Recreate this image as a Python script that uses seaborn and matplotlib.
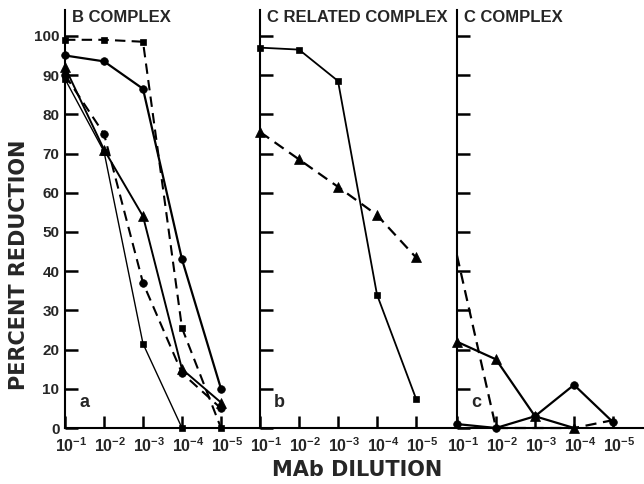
import matplotlib
matplotlib.use("Agg")
import matplotlib.pyplot as plt
import matplotlib.transforms as mtransforms
from matplotlib.ticker import NullLocator
import seaborn as sns

sns.set_style("white")
plt.rcParams['font.family'] = ['Liberation Sans', 'DejaVu Sans']
plt.rcParams['font.weight'] = 'bold'
plt.rcParams['mathtext.fontset'] = 'custom'
plt.rcParams['mathtext.rm'] = 'Liberation Sans:bold'
plt.rcParams['mathtext.bf'] = 'Liberation Sans:bold'
plt.rcParams['mathtext.default'] = 'bf'

# 데이터
dilutions = [1e-1, 1e-2, 1e-3, 1e-4, 1e-5]
x_tick_labels = ['$10^{-1}$', '$10^{-2}$', '$10^{-3}$', '$10^{-4}$', '$10^{-5}$']
y_ticks = [0, 10, 20, 30, 40, 50, 60, 70, 80, 90, 100]
panel_titles = ['B COMPLEX', 'C RELATED COMPLEX', 'C COMPLEX']
panel_letters = ['a', 'b', 'c']

# (a) B complex
a_circle_solid = [95, 93.5, 86.5, 43, 10]
a_square_dash = [99, 99, 98.5, 25.5, 0]
a_triangle_solid = [92, 71, 54, 15, 6.5]
a_circle_dash = [90, 75, 37, 14, 5]
a_square_solid = [89, 70.5, 21.5, 0]

# (b) C related complex
b_square_solid = [97, 96.5, 88.5, 34, 7.5]
b_triangle_dash = [75.5, 68.5, 61.5, 54.3, 43.5]

# (c) C complex
c_circle_solid = [1, 0, 3, 11, 1.5]
c_triangle_solid = [22, 17.5, 3, 0]
c_dash = [44, 0, 0, 0, 2]

# 마커 크기
marker_sizes = {'o': 5.5, 's': 5, '^': 7, None: 0}

# 선 스타일: (값, 마커, 점선 여부, 선 두께)
panels = [
    [(a_circle_solid, 'o', False, 1.6),
     (a_square_dash, 's', True, 1.5),
     (a_triangle_solid, '^', False, 1.4),
     (a_circle_dash, 'o', True, 1.5),
     (a_square_solid, 's', False, 1.0)],
    [(b_square_solid, 's', False, 1.3),
     (b_triangle_dash, '^', True, 1.6)],
    [(c_circle_solid, 'o', False, 1.6),
     (c_triangle_solid, '^', False, 1.6),
     (c_dash, None, True, 1.6)],
]

W, H = 644, 484
fig = plt.figure(figsize=(W / 100, H / 100), dpi=100)
lefts = [65, 260, 457]
axes = [fig.add_axes([l / W, 56 / H, 195 / W, 418 / H]) for l in lefts]

offset = mtransforms.ScaledTranslation(0.06, 0, fig.dpi_scale_trans)

for i, ax in enumerate(axes):
    for vals, marker, dashed, lw in panels[i]:
        ls = (0, (5, 3)) if dashed else '-'
        sns.lineplot(x=dilutions[:len(vals)], y=vals, ax=ax, color='black',
                     marker=marker, markersize=marker_sizes[marker],
                     markeredgecolor='black', markeredgewidth=0.5,
                     linestyle=ls, linewidth=lw, estimator=None, sort=False,
                     legend=False, clip_on=False)

    ax.set_xscale('log')
    ax.set_xlim(1e-1, 1e-6)
    ax.set_ylim(0, 106.6)
    ax.xaxis.set_minor_locator(NullLocator())
    ax.set_xticks(dilutions)
    ax.set_xticklabels(x_tick_labels, fontsize=11.5)
    ax.set_yticks(y_ticks)
    ax.set_yticklabels([str(v) for v in y_ticks], fontsize=11)
    ax.tick_params(direction='in', length=9, width=1.8, color='black', pad=4,
                   bottom=True, left=True)
    ax.tick_params(axis='x', pad=6)
    if i > 0:
        ax.tick_params(labelleft=False)
    for lab in ax.get_xticklabels():
        lab.set_transform(lab.get_transform() + offset)

    for side in ['top', 'right']:
        ax.spines[side].set_visible(False)
    for side in ['left', 'bottom']:
        ax.spines[side].set_linewidth(1.5)
        ax.spines[side].set_color('black')
    ax.set_xlabel('')
    ax.set_ylabel('')
    ax.patch.set_alpha(0)

    ax.text(0.036, 0.983, panel_titles[i], transform=ax.transAxes, ha='left',
            va='center', fontsize=12, fontweight='bold')
    ax.text(0.10, 0.06, panel_letters[i], transform=ax.transAxes, ha='center',
            va='center', fontsize=13, fontweight='bold')

axes[0].set_ylabel('PERCENT REDUCTION', fontsize=15, fontweight='bold',
                   family='DejaVu Sans', va='center')
axes[0].yaxis.set_label_coords(-0.235, 0.39)
axes[1].set_xlabel('MAb DILUTION', fontsize=15, fontweight='bold',
                   family='DejaVu Sans', va='center')
axes[1].xaxis.set_label_coords(0.5, -0.1)

plt.savefig('out.png', dpi=100)
